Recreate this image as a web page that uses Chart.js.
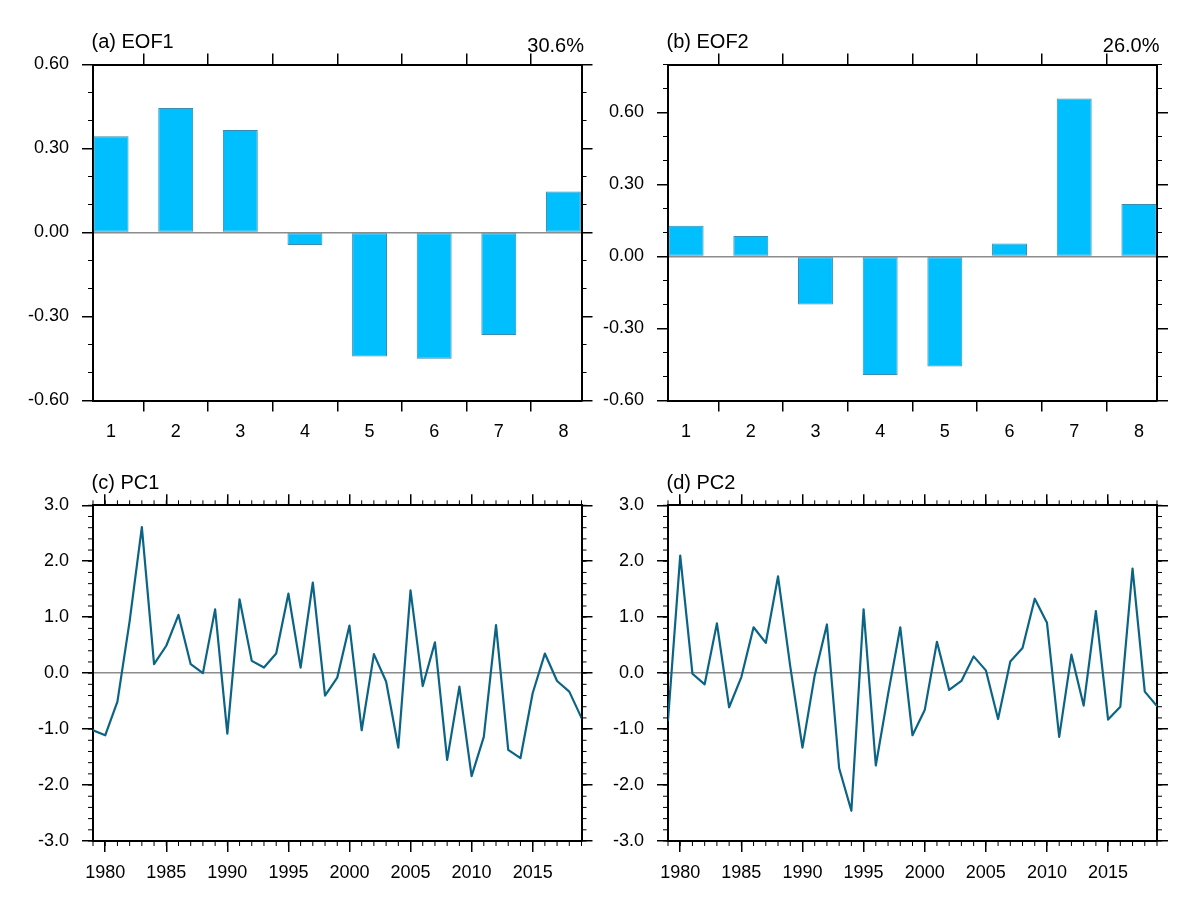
<!DOCTYPE html>
<html>
<head>
<meta charset="utf-8">
<script src="https://cdn.jsdelivr.net/npm/chart.js@4.4.0/dist/chart.umd.min.js"></script>
<style>
html,body{margin:0;padding:0;background:#fff;width:1200px;height:911px;overflow:hidden}
canvas{position:absolute}
</style>
</head>
<body>
<canvas id="ca" width="600" height="455" style="left:0;top:0"></canvas>
<canvas id="cb" width="600" height="455" style="left:600px;top:0"></canvas>
<canvas id="cc" width="600" height="456" style="left:0;top:455px"></canvas>
<canvas id="cd" width="600" height="456" style="left:600px;top:455px"></canvas>
<script>
// ---------------- DATA ----------------
const eofCategories = [1, 2, 3, 4, 5, 6, 7, 8];
const eof1Values = [0.344, 0.445, 0.366, -0.045, -0.443, -0.451, -0.366, 0.146];
const eof2Values = [0.128, 0.085, -0.200, -0.494, -0.458, 0.054, 0.658, 0.219];
const eofYTicks = [-0.6, -0.3, 0, 0.3, 0.6];

const years = [1979, 1980, 1981, 1982, 1983, 1984, 1985, 1986, 1987, 1988,
               1989, 1990, 1991, 1992, 1993, 1994, 1995, 1996, 1997, 1998,
               1999, 2000, 2001, 2002, 2003, 2004, 2005, 2006, 2007, 2008,
               2009, 2010, 2011, 2012, 2013, 2014, 2015, 2016, 2017, 2018, 2019];
const pc1Values = [-1.02, -1.11, -0.51, 0.93, 2.61, 0.16, 0.49, 1.04, 0.16, 0.00,
                   1.14, -1.08, 1.32, 0.22, 0.10, 0.35, 1.42, 0.10, 1.62, -0.40,
                   -0.08, 0.85, -1.02, 0.34, -0.15, -1.33, 1.48, -0.23, 0.55, -1.55,
                   -0.24, -1.84, -1.14, 0.86, -1.37, -1.52, -0.36, 0.35, -0.14, -0.33, -0.80];
const pc2Values = [-0.84, 2.10, -0.01, -0.20, 0.89, -0.61, -0.07, 0.82, 0.54, 1.73,
                   0.12, -1.33, -0.04, 0.87, -1.70, -2.46, 1.14, -1.65, -0.38, 0.82,
                   -1.11, -0.66, 0.56, -0.30, -0.14, 0.30, 0.05, -0.82, 0.21, 0.45,
                   1.33, 0.90, -1.14, 0.33, -0.58, 1.11, -0.83, -0.60, 1.87, -0.33, -0.59];
const pcYTicks = [-3, -2, -1, 0, 1, 2, 3];
const pcXTicks = [1980, 1985, 1990, 1995, 2000, 2005, 2010, 2015];

const panelTitles = ['(a) EOF1', '(b) EOF2', '(c) PC1', '(d) PC2'];
const panelPercents = ['30.6%', '26.0%', '', ''];

// ---------------- STYLE ----------------
const FONT = '"Liberation Sans", Arial, Helvetica, sans-serif';
Chart.defaults.font.family = FONT;
Chart.defaults.color = '#000';

const panelSpecs = {};

const deco = {
  id: 'deco',
  afterDraw(chart) {
    const spec = panelSpecs[chart.canvas.id];
    if (!spec) return;
    const ctx = chart.ctx;
    const a = chart.chartArea;
    ctx.save();
    // minor ticks
    ctx.strokeStyle = '#000';
    ctx.lineWidth = 1;
    const L = 5;
    const drawMinor = (axisId, step, vertical) => {
      if (!step) return;
      const s = chart.scales[axisId];
      const lo = s.min, hi = s.max;
      const start = Math.ceil(lo / step - 1e-6);
      const end = Math.floor(hi / step + 1e-6);
      ctx.beginPath();
      for (let k = start; k <= end; k++) {
        const v = k * step;
        const p = s.getPixelForValue(v);
        if (vertical) {
          ctx.moveTo(a.left - L, p); ctx.lineTo(a.left, p);
          ctx.moveTo(a.right, p); ctx.lineTo(a.right + L, p);
        } else {
          ctx.moveTo(p, a.bottom); ctx.lineTo(p, a.bottom + L);
          ctx.moveTo(p, a.top - L); ctx.lineTo(p, a.top);
        }
      }
      ctx.stroke();
    };
    drawMinor('y', spec.yMinor, true);
    drawMinor('x', spec.xMinor, false);
    // titles
    ctx.fillStyle = '#000';
    ctx.font = '20px ' + FONT;
    ctx.textBaseline = 'middle';
    ctx.textAlign = 'left';
    ctx.fillText(spec.title, a.left - 1.5, a.top - 22);
    if (spec.pct) {
      ctx.textAlign = 'right';
      ctx.fillText(spec.pct, a.right + 2.5, a.top - 18.5);
    }
    ctx.restore();
  }
};

function makePanel(id, kind, values, xCats, opt) {
  const canvas = document.getElementById(id);
  const W = canvas.width, H = canvas.height;
  panelSpecs[id] = { title: opt.title, pct: opt.pct, yMinor: opt.yMinor, xMinor: opt.xMinor };
  const setTicks = (arr) => (scale) => { scale.ticks = arr.map(v => ({ value: v })); };
  const tickFont = { family: FONT, size: 18 };
  const majorGrid = (onArea) => ({
    drawOnChartArea: onArea,
    drawTicks: true,
    tickLength: 11,
    tickColor: '#000',
    tickWidth: 1.5,
    lineWidth: 1.5,
    color: (c) => (onArea && c.tick && Math.abs(c.tick.value) < 1e-9) ? '#8c8c8c' : 'rgba(0,0,0,0)'
  });
  const border = { display: true, color: '#000', width: 2 };
  const data = xCats.map((x, i) => ({ x: x, y: values[i] }));
  const dataset = kind === 'bar' ? {
    data: data,
    backgroundColor: '#00BFFF',
    borderColor: '#3a8cb0',
    borderWidth: 1,
    borderSkipped: false,
    barPercentage: opt.barPct,
    categoryPercentage: 1.0
  } : {
    data: data,
    borderColor: '#0b6485',
    borderWidth: 2.2,
    borderJoinStyle: 'round',
    borderCapStyle: 'round',
    pointRadius: 0,
    tension: 0,
    fill: false
  };
  new Chart(canvas, {
    type: kind,
    data: { datasets: [dataset] },
    options: {
      responsive: false,
      animation: false,
      devicePixelRatio: 1,
      layout: { padding: 0 },
      plugins: { legend: { display: false }, tooltip: { enabled: false }, title: { display: false } },
      scales: {
        x: {
          type: 'linear', position: 'bottom', offset: false,
          min: opt.xMin, max: opt.xMax,
          afterBuildTicks: setTicks(opt.xTicks),
          afterFit: (s) => { s.height = H - opt.box.bottom; },
          grid: majorGrid(false), border: border,
          ticks: { font: tickFont, padding: 10, maxRotation: 0, autoSkip: false,
                   callback: (v) => String(v) }
        },
        x2: {
          type: 'linear', position: 'top', offset: false,
          min: opt.xMin, max: opt.xMax,
          afterBuildTicks: setTicks(opt.xTicks),
          afterFit: (s) => { s.height = opt.box.top; },
          grid: majorGrid(false), border: border,
          ticks: { display: false }
        },
        y: {
          type: 'linear', position: 'left',
          min: opt.yMin, max: opt.yMax,
          afterBuildTicks: setTicks(opt.yTicks),
          afterFit: (s) => { s.width = opt.box.left; },
          grid: majorGrid(true), border: border,
          ticks: { font: tickFont, padding: 13,
                   callback: (v) => Number(v).toFixed(opt.yDec) }
        },
        y2: {
          type: 'linear', position: 'right',
          min: opt.yMin, max: opt.yMax,
          afterBuildTicks: setTicks(opt.yTicks),
          afterFit: (s) => { s.width = W - opt.box.right; },
          grid: majorGrid(false), border: border,
          ticks: { display: false }
        }
      }
    },
    plugins: [deco]
  });
}

makePanel('ca', 'bar', eof1Values, eofCategories, {
  title: panelTitles[0], pct: panelPercents[0],
  xMin: 0.72, xMax: 8.28, xTicks: eofCategories, xMinor: 0,
  yMin: -0.6, yMax: 0.6, yTicks: eofYTicks, yMinor: 0.1, yDec: 2,
  barPct: 0.54,
  box: { left: 93, right: 581.5, top: 64.5, bottom: 400.5 }
});
makePanel('cb', 'bar', eof2Values, eofCategories, {
  title: panelTitles[1], pct: panelPercents[1],
  xMin: 0.72, xMax: 8.28, xTicks: eofCategories, xMinor: 0,
  yMin: -0.6, yMax: 0.8, yTicks: eofYTicks, yMinor: 0.1, yDec: 2,
  barPct: 0.54,
  box: { left: 68, right: 557, top: 64.5, bottom: 400.5 }
});
makePanel('cc', 'line', pc1Values, years, {
  title: panelTitles[2], pct: panelPercents[2],
  xMin: 1979, xMax: 2019, xTicks: pcXTicks, xMinor: 1,
  yMin: -3, yMax: 3, yTicks: pcYTicks, yMinor: 0.2, yDec: 1,
  box: { left: 93, right: 581.5, top: 50.3, bottom: 386 }
});
makePanel('cd', 'line', pc2Values, years, {
  title: panelTitles[3], pct: panelPercents[3],
  xMin: 1979, xMax: 2019, xTicks: pcXTicks, xMinor: 1,
  yMin: -3, yMax: 3, yTicks: pcYTicks, yMinor: 0.2, yDec: 1,
  box: { left: 68, right: 557, top: 50.3, bottom: 386 }
});
</script>
</body>
</html>
